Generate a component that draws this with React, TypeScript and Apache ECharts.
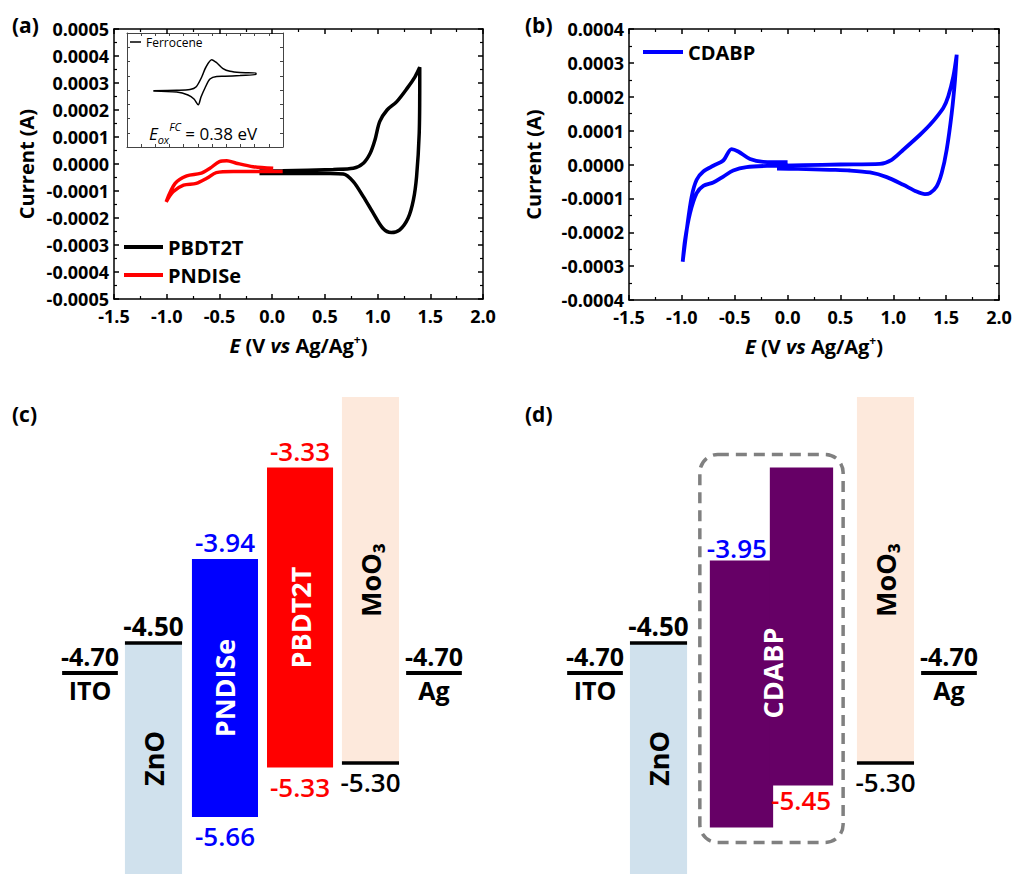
import React, { useEffect, useRef } from "react";
import * as echarts from "echarts";

const FONT = '"Open Sans", "Noto Sans", "DejaVu Sans", sans-serif';

// ---------- (a) cyclic voltammograms ----------
const PBDT2T_E = [-0.12, 0.10, 0.58, 0.77, 0.865, 0.93, 0.975, 1.02, 1.09, 1.18, 1.28, 1.355, 1.40, 1.40, 1.395, 1.37, 1.34, 1.29, 1.21, 1.13, 1.05, 0.96, 0.865, 0.77, 0.675, 0.55, 0.10, -0.12];
const PBDT2T_I = [-2.6e-5, -2.5e-5, -2.0e-5, -1.6e-5, 0.3e-5, 4.0e-5, 8.9e-5, 15.7e-5, 20.0e-5, 23.0e-5, 28.0e-5, 32.3e-5, 35.8e-5, 29.9e-5, 11.4e-5, -4.7e-5, -13.3e-5, -20.0e-5, -24.4e-5, -25.4e-5, -23.8e-5, -18.3e-5, -12.1e-5, -6.5e-5, -3.7e-5, -3.5e-5, -3.5e-5, -3.5e-5];

const PNDISE_E = [0.01, -0.18, -0.34, -0.43, -0.50, -0.59, -0.68, -0.81, -0.92, -1.005, -0.94, -0.84, -0.72, -0.62, -0.53, -0.37, -0.12, 0.10];
const PNDISE_I = [-1.6e-5, -1.0e-5, 0.3e-5, 1.2e-5, 0.9e-5, -1.6e-5, -3.5e-5, -4.4e-5, -7.2e-5, -14.0e-5, -10.3e-5, -7.8e-5, -7.2e-5, -5.3e-5, -3.2e-5, -2.8e-5, -2.8e-5, -2.8e-5];

// inset: ferrocene (arbitrary current units)
const FC_E = [-0.183, 0.081, 0.231, 0.298, 0.363, 0.411, 0.476, 0.535, 0.603, 0.682, 0.795, 0.975, 0.975, 0.795, 0.626, 0.532, 0.456, 0.40, 0.355, 0.324, 0.276, 0.208, 0.081, -0.183];
const FC_I = [-0.025, -0.01, 0.018, 0.105, 0.456, 0.807, 1.063, 0.947, 0.754, 0.656, 0.614, 0.596, 0.544, 0.509, 0.481, 0.474, 0.386, 0.07, -0.246, -0.516, -0.316, -0.175, -0.07, -0.035];

// ---------- (b) ----------
const CDABP_E = [0.0, -0.23, -0.355, -0.467, -0.53, -0.608, -0.703, -0.797, -0.86, -0.907, -0.954, -0.992, -0.97, -0.923, -0.86, -0.797, -0.703, -0.608, -0.514, -0.388, -0.166, 0.15, 0.5, 0.874, 0.985, 1.095, 1.253, 1.347, 1.473, 1.52, 1.568, 1.60, 1.584, 1.553, 1.505, 1.458, 1.41, 1.347, 1.30, 1.22, 1.095, 0.938, 0.78, 0.59, 0.40, 0.10, -0.10];
const CDABP_I = [0.7e-5, 0.8e-5, 1.6e-5, 3.84e-5, 4.55e-5, 1.18e-5, -0.38e-5, -2.07e-5, -4.52e-5, -9.46e-5, -19.3e-5, -28.7e-5, -22.3e-5, -14.4e-5, -8.46e-5, -6.3e-5, -5.32e-5, -3.55e-5, -1.77e-5, -0.77e-5, -0.38e-5, -0.2e-5, 0.0, 0.2e-5, 1.4e-5, 4.35e-5, 8.78e-5, 11.7e-5, 16.7e-5, 20.1e-5, 26.0e-5, 32.4e-5, 25.0e-5, 15.2e-5, 4.35e-5, -2.54e-5, -6.5e-5, -8.45e-5, -8.75e-5, -8.0e-5, -6.0e-5, -3.73e-5, -2.36e-5, -1.77e-5, -1.57e-5, -1.3e-5, -1.2e-5];

const E_RANGE = [-1.5, 2.0];
const A_I_RANGE = [-0.0005, 0.0005];
const B_I_RANGE = [-0.0004, 0.0004];

// ---------- (c) energy levels (eV) ----------
const C_LAYERS = ["ITO", "ZnO", "PNDISe", "PBDT2T", "MoO₃", "Ag"];
const C_TOP = [-4.70, -4.50, -3.94, -3.33, -2.86, -4.70];
const C_BOTTOM = [-4.70, -7.60, -5.66, -5.33, -5.30, -4.70];

// ---------- (d) energy levels (eV) ----------
const D_LAYERS = ["ITO", "ZnO", "CDABP-A", "CDABP-D", "MoO₃", "Ag"];
const D_TOP = [-4.70, -4.50, -3.95, -3.33, -2.86, -4.70];
const D_BOTTOM = [-4.70, -7.60, -5.73, -5.45, -5.30, -4.70];

// ---------- layout (slot positions/widths, not data) ----------
const C_SLOT = [0.494, 1.417, 2.456, 3.547, 4.571, 5.494];
const C_WIDTH = [0.81, 0.83, 0.96, 0.96, 0.83, 0.81];
const D_SLOT = [0.567, 1.49, 2.696, 3.568, 4.789, 5.712];
const D_WIDTH = [0.81, 0.83, 0.92, 0.92, 0.83, 0.81];

const LAYER_STYLE: Record<string, any> = {
  ITO: { kind: "electrode" },
  Ag: { kind: "electrode" },
  ZnO: { fill: "#d0e1ed", edge: "top", top: "#000", topBold: true, name: "ZnO", nameColor: "#000" },
  PNDISe: { fill: "#0000ff", top: "#0000ff", bottom: "#0000ff", name: "PNDISe", nameColor: "#fff" },
  PBDT2T: { fill: "#ff0000", top: "#ff0000", bottom: "#ff0000", name: "PBDT2T", nameColor: "#fff" },
  "MoO₃": { fill: "#fde9dc", edge: "bottom", bottom: "#000", name: "MoO₃", nameColor: "#000" },
  "CDABP-A": { fill: "#660066", top: "#0000ff", topAlign: "left" },
  "CDABP-D": { fill: "#660066", bottom: "#ff0000", bottomAlign: "right", name: "CDABP", nameColor: "#fff", box: true },
};

function zip(xs: number[], ys: number[]) {
  return xs.map((x, i) => [x, ys[i]]);
}

function energyRender(layers: string[], tops: number[], bottoms: number[], slots: number[], widths: number[]) {
  return function (params: any, api: any) {
    const i = api.value(0);
    const top = api.value(1);
    const bot = api.value(2);
    const name = layers[i];
    const st = LAYER_STYLE[name];
    const p0 = api.coord([slots[i] - widths[i] / 2, top]);
    const p1 = api.coord([slots[i] + widths[i] / 2, bot]);
    const left = p0[0], right = p1[0], yT = p0[1], yB = p1[1];
    const cx = (left + right) / 2;
    const gridBottom = params.coordSys.y + params.coordSys.height;
    const children: any[] = [];
    const txt = (text: string, x: number, y: number, fill: string, weight: string, align = "center", size = 26) => ({
      type: "text",
      x,
      y,
      style: { text, fill, fontSize: size, fontWeight: weight, fontFamily: FONT, align, verticalAlign: "middle" },
    });
    if (st.kind === "electrode") {
      children.push({ type: "line", shape: { x1: left, y1: yT, x2: right, y2: yT }, style: { stroke: "#000", lineWidth: 4 } });
      children.push(txt(top.toFixed(2), cx, yT - 17, "#000", "bold", "center", 25));
      children.push(txt(name, cx, yT + 17, "#000", "bold", "center", 25));
      return { type: "group", children };
    }
    children.push({ type: "rect", shape: { x: left, y: yT, width: right - left, height: yB - yT }, style: { fill: st.fill } });
    if (st.edge === "top") {
      children.push({ type: "line", shape: { x1: left, y1: yT, x2: right, y2: yT }, style: { stroke: "#000", lineWidth: 3.5 } });
    }
    if (st.edge === "bottom") {
      children.push({ type: "line", shape: { x1: left, y1: yB, x2: right, y2: yB }, style: { stroke: "#000", lineWidth: 3.5 } });
    }
    if (st.top) {
      if (st.topAlign === "left") children.push(txt(top.toFixed(2), left - 3, yT - 13, st.top, "600", "left"));
      else children.push(txt(top.toFixed(2), cx, yT - 17, st.top, st.topBold ? "bold" : "600"));
    }
    if (st.bottom) {
      if (st.bottomAlign === "right") children.push(txt(bot.toFixed(2), right - 2, yB + 14, st.bottom, "600", "right"));
      else children.push(txt(bot.toFixed(2), cx, yB + 19, st.bottom, "600"));
    }
    if (st.box) {
      const j = i - 1;
      const a0 = api.coord([slots[j] - widths[j] / 2, tops[j]]);
      const a1 = api.coord([slots[j] + widths[j] / 2, bottoms[j]]);
      const bx0 = a0[0] - 10, bx1 = right + 10, by0 = yT - 13, by1 = a1[1] + 15;
      children.push({
        type: "rect",
        shape: { x: bx0, y: by0, width: bx1 - bx0, height: by1 - by0, r: 18 },
        style: { fill: "none", stroke: "#808080", lineWidth: 3.5, lineDash: [11, 7] },
      });
      const midE = (tops[j] + bot) / 2;
      const pm = api.coord([slots[i], midE]);
      children.push({
        type: "text", x: left + 3, y: pm[1], rotation: Math.PI / 2,
        style: { text: st.name, fill: st.nameColor, fontSize: 27, fontWeight: "bold", fontFamily: FONT, align: "center", verticalAlign: "middle" },
      });
    } else if (st.name) {
      const cy = (yT + Math.min(yB, gridBottom)) / 2;
      children.push({
        type: "text", x: cx, y: cy, rotation: Math.PI / 2,
        style: { text: st.name, fill: st.nameColor, fontSize: 27, fontWeight: "bold", fontFamily: FONT, align: "center", verticalAlign: "middle" },
      });
    }
    return { type: "group", children };
  };
}

const axisLineStyle = { color: "#000", width: 1.5 };

function cvX(gridIndex: number, position: string, main: boolean) {
  return {
    type: "value", gridIndex, position, min: E_RANGE[0], max: E_RANGE[1], interval: 0.5,
    axisLine: { show: true, onZero: false, lineStyle: axisLineStyle },
    axisTick: { show: true, inside: true, length: 5, lineStyle: axisLineStyle },
    minorTick: { show: true, splitNumber: 2, length: 3, lineStyle: { color: "#000", width: 1.2 } },
    splitLine: { show: false },
    axisLabel: { show: main, margin: 8, fontSize: 18, fontWeight: "bold", fontFamily: FONT, color: "#000", formatter: (v: number) => v.toFixed(1) },
    name: main ? "{i|E} (V {i|vs} Ag/Ag{s|+})" : "",
    nameLocation: "middle",
    nameGap: 34,
    nameTextStyle: {
      fontSize: 20, fontWeight: "bold", fontFamily: FONT, color: "#000", lineHeight: 24,
      rich: {
        i: { fontSize: 20, fontWeight: "bold", fontStyle: "italic", fontFamily: FONT, color: "#000", lineHeight: 24 },
        s: { fontSize: 12, fontWeight: "bold", fontFamily: FONT, color: "#000", verticalAlign: "top", lineHeight: 24 },
      },
    },
  };
}

function cvY(gridIndex: number, position: string, main: boolean, range: number[], gap: number) {
  return {
    type: "value", gridIndex, position, min: range[0], max: range[1], interval: 0.0001,
    axisLine: { show: true, onZero: false, lineStyle: axisLineStyle },
    axisTick: { show: true, inside: true, length: 5, lineStyle: axisLineStyle },
    minorTick: { show: true, splitNumber: 2, length: 3, lineStyle: { color: "#000", width: 1.2 } },
    splitLine: { show: false },
    axisLabel: { show: main, margin: 5, fontSize: 18, fontWeight: "bold", fontFamily: FONT, color: "#000", formatter: (v: number) => v.toFixed(4) },
    name: main ? "Current (A)" : "",
    nameLocation: "middle",
    nameRotate: 90,
    nameGap: gap,
    nameTextStyle: { fontSize: 20, fontWeight: "bold", fontFamily: FONT, color: "#000" },
  };
}

function insetAxis(kind: "x" | "y", position: string) {
  const base: any = {
    type: "value", gridIndex: 2, position,
    axisLine: { show: true, onZero: false, lineStyle: { color: "#444", width: 1 } },
    axisTick: { show: true, inside: true, length: 3, lineStyle: { color: "#444", width: 1 } },
    axisLabel: { show: false },
    splitLine: { show: false },
  };
  if (kind === "x") return { ...base, min: -0.48, max: 1.28, interval: 0.16 };
  return { ...base, min: -2, max: 2, interval: 0.5 };
}

function energyAxis(kind: "x" | "y", gridIndex: number) {
  if (kind === "x") return { type: "value", gridIndex, min: 0, max: 6, show: false };
  return { type: "value", gridIndex, min: -6.04, max: -2.7, show: false };
}

const legendText = { fontSize: 20, fontWeight: "bold", fontFamily: FONT, color: "#000" };

function buildOption() {
  return {
    animation: false,
    backgroundColor: "#fff",
    grid: [
      { left: 114, top: 29, width: 369, height: 270, outerBoundsMode: "none" },
      { left: 629, top: 29, width: 370, height: 271, outerBoundsMode: "none" },
      { left: 127, top: 33, width: 156, height: 114, outerBoundsMode: "none" },
      { left: 56, top: 373, width: 412.8, height: 501, outerBoundsMode: "none" },
      { left: 556, top: 373, width: 412.8, height: 501, outerBoundsMode: "none" },
    ],
    xAxis: [
      cvX(0, "bottom", true),
      cvX(0, "top", false),
      cvX(1, "bottom", true),
      cvX(1, "top", false),
      insetAxis("x", "bottom"),
      insetAxis("x", "top"),
      energyAxis("x", 3),
      energyAxis("x", 4),
    ],
    yAxis: [
      cvY(0, "left", true, A_I_RANGE, 78),
      cvY(0, "right", false, A_I_RANGE, 0),
      cvY(1, "left", true, B_I_RANGE, 86),
      cvY(1, "right", false, B_I_RANGE, 0),
      insetAxis("y", "left"),
      insetAxis("y", "right"),
      energyAxis("y", 3),
      energyAxis("y", 4),
    ],
    legend: [
      {
        data: ["PBDT2T", "PNDISe"], orient: "vertical", left: 124, top: 237, itemWidth: 39, itemHeight: 4,
        icon: "rect", itemGap: 8, padding: 0, selectedMode: false, textStyle: legendText,
      },
      {
        data: ["CDABP"], orient: "vertical", left: 643, top: 42, itemWidth: 40, itemHeight: 4,
        icon: "rect", padding: 0, selectedMode: false, textStyle: legendText,
      },
      {
        data: ["Ferrocene"], orient: "vertical", left: 130, top: 36, itemWidth: 11, itemHeight: 1.5,
        icon: "rect", padding: 0, selectedMode: false,
        textStyle: { fontSize: 12, fontFamily: FONT, color: "#000" },
      },
    ],
    series: [
      {
        type: "line", name: "PBDT2T", xAxisIndex: 0, yAxisIndex: 0, data: zip(PBDT2T_E, PBDT2T_I),
        showSymbol: false, symbol: "none", smooth: 0.3, color: "#000", lineStyle: { width: 3.5, color: "#000" }, silent: true,
      },
      {
        type: "line", name: "PNDISe", xAxisIndex: 0, yAxisIndex: 0, data: zip(PNDISE_E, PNDISE_I),
        showSymbol: false, symbol: "none", smooth: 0.3, color: "#ff0000", lineStyle: { width: 3.5, color: "#ff0000" }, silent: true,
      },
      {
        type: "line", name: "CDABP", xAxisIndex: 2, yAxisIndex: 2, data: zip(CDABP_E, CDABP_I),
        showSymbol: false, symbol: "none", smooth: 0.3, color: "#0000ff", lineStyle: { width: 3.8, color: "#0000ff" }, silent: true,
      },
      {
        type: "line", name: "Ferrocene", xAxisIndex: 4, yAxisIndex: 4, data: zip(FC_E, FC_I),
        showSymbol: false, symbol: "none", smooth: 0.3, color: "#000", lineStyle: { width: 1.5, color: "#000" }, silent: true,
      },
      {
        type: "custom", name: "levels-c", xAxisIndex: 6, yAxisIndex: 6, silent: true,
        data: C_TOP.map((t, i) => [i, t, C_BOTTOM[i]]),
        encode: { x: 0, y: [1, 2] },
        renderItem: energyRender(C_LAYERS, C_TOP, C_BOTTOM, C_SLOT, C_WIDTH),
      },
      {
        type: "custom", name: "levels-d", xAxisIndex: 7, yAxisIndex: 7, silent: true,
        data: D_TOP.map((t, i) => [i, t, D_BOTTOM[i]]),
        encode: { x: 0, y: [1, 2] },
        renderItem: energyRender(D_LAYERS, D_TOP, D_BOTTOM, D_SLOT, D_WIDTH),
      },
    ],
    graphic: [
      { type: "text", x: 12, y: 25, style: { text: "(a)", fontSize: 21, fontWeight: "bold", fontFamily: FONT, fill: "#000", verticalAlign: "middle" } },
      { type: "text", x: 525, y: 25, style: { text: "(b)", fontSize: 21, fontWeight: "bold", fontFamily: FONT, fill: "#000", verticalAlign: "middle" } },
      { type: "text", x: 12, y: 414, style: { text: "(c)", fontSize: 21, fontWeight: "bold", fontFamily: FONT, fill: "#000", verticalAlign: "middle" } },
      { type: "text", x: 525, y: 414, style: { text: "(d)", fontSize: 21, fontWeight: "bold", fontFamily: FONT, fill: "#000", verticalAlign: "middle" } },
      {
        type: "text", x: 203, y: 133,
        style: {
          text: "{e|E}{sub|ox}{sup|FC}{n| = 0.38 eV}",
          align: "center", verticalAlign: "middle", fontFamily: FONT, fill: "#000",
          rich: {
            e: { fontSize: 17, fontStyle: "italic", fontFamily: FONT, fill: "#000", lineHeight: 24 },
            sub: { fontSize: 11, fontStyle: "italic", fontFamily: FONT, fill: "#000", verticalAlign: "bottom", lineHeight: 24 },
            sup: { fontSize: 11, fontStyle: "italic", fontFamily: FONT, fill: "#000", verticalAlign: "top", lineHeight: 24 },
            n: { fontSize: 17, fontFamily: FONT, fill: "#000", lineHeight: 24 },
          },
        },
      },
    ],
  };
}

export default function App() {
  const ref = useRef<HTMLDivElement>(null);
  useEffect(() => {
    if (!ref.current) return;
    const chart = echarts.init(ref.current, null, { renderer: "svg" });
    chart.setOption(buildOption() as any);
    return () => chart.dispose();
  }, []);
  return (
    <div
      ref={ref}
      style={{ position: "absolute", left: 0, top: 0, width: 1017, height: 874, overflow: "hidden", background: "#fff" }}
    />
  );
}
